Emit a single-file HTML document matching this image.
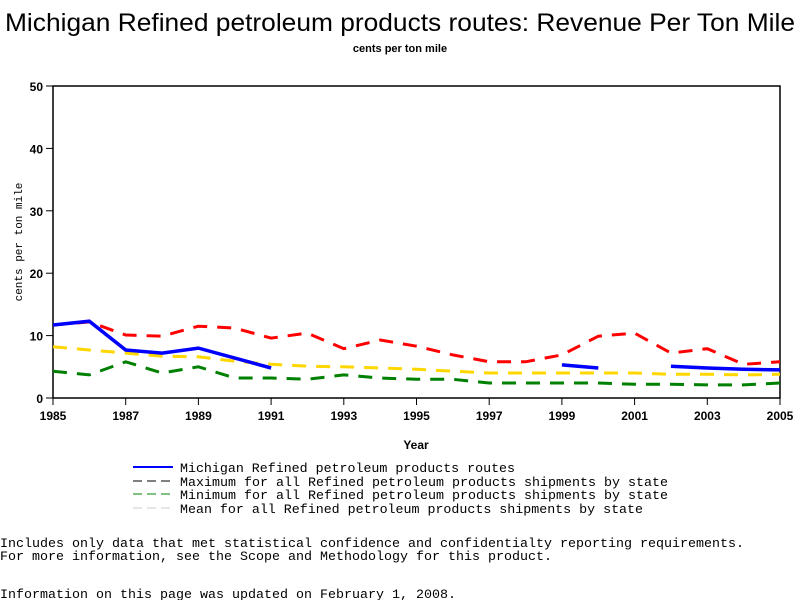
<!DOCTYPE html>
<html><head><meta charset="utf-8"><style>
body{margin:0;background:#fff;width:800px;height:600px;overflow:hidden;}
svg{display:block;}
.m{font-family:"Liberation Mono",monospace;font-size:13.3px;}
</style></head><body>
<svg id="c" width="800" height="600" xmlns="http://www.w3.org/2000/svg">
<text x="400" y="31" text-anchor="middle" font-family="Liberation Sans,sans-serif" font-size="25" textLength="790" lengthAdjust="spacingAndGlyphs">Michigan Refined petroleum products routes: Revenue Per Ton Mile</text>
<text x="400" y="52" text-anchor="middle" font-family="Liberation Sans,sans-serif" font-size="11" font-weight="bold">cents per ton mile</text>
<g id="axes"></g>
<g id="series"></g>
<text x="416" y="449" text-anchor="middle" font-family="Liberation Sans,sans-serif" font-size="12" font-weight="bold">Year</text>
<text transform="translate(22,242) rotate(-90)" text-anchor="middle" font-family="Liberation Mono,monospace" font-size="11">cents per ton mile</text>
<g>
<line x1="133" y1="467" x2="173" y2="467" stroke="#0000ff" stroke-width="2"/>
<text class="m" x="180" y="472" textLength="335" lengthAdjust="spacingAndGlyphs">Michigan Refined petroleum products routes</text>
<line x1="133" y1="481" x2="173" y2="481" stroke="#000" stroke-width="1" stroke-dasharray="9,5"/>
<text class="m" x="180" y="486" textLength="488" lengthAdjust="spacingAndGlyphs">Maximum for all Refined petroleum products shipments by state</text>
<line x1="133" y1="494" x2="173" y2="494" stroke="#008000" stroke-width="1" stroke-dasharray="9,5"/>
<text class="m" x="180" y="499" textLength="488" lengthAdjust="spacingAndGlyphs">Minimum for all Refined petroleum products shipments by state</text>
<line x1="133" y1="508" x2="173" y2="508" stroke="#ccc" stroke-width="1" stroke-dasharray="9,5"/>
<text class="m" x="180" y="513" textLength="463" lengthAdjust="spacingAndGlyphs">Mean for all Refined petroleum products shipments by state</text>
</g>
<text class="m" x="0" y="547" textLength="744" lengthAdjust="spacingAndGlyphs">Includes only data that met statistical confidence and confidentialty reporting requirements.</text>
<text class="m" x="0" y="560" textLength="552" lengthAdjust="spacingAndGlyphs">For more information, see the Scope and Methodology for this product.</text>
<text class="m" x="0" y="598" textLength="456" lengthAdjust="spacingAndGlyphs">Information on this page was updated on February 1, 2008.</text>
</svg>
<script>
const years=[1985,1986,1987,1988,1989,1990,1991,1992,1993,1994,1995,1996,1997,1998,1999,2000,2001,2002,2003,2004,2005];
const michigan=[11.7,12.3,7.7,7.2,8.0,6.4,4.8,null,null,null,null,null,null,null,5.3,4.8,null,5.1,4.8,4.6,4.5];
const maxVals=[11.7,12.2,10.1,9.9,11.5,11.2,9.6,10.4,7.9,9.3,8.3,6.9,5.8,5.8,6.9,9.9,10.4,7.2,7.9,5.4,5.8];
const minVals=[4.3,3.7,5.8,4.0,5.0,3.2,3.2,3.0,3.7,3.2,3.0,3.0,2.4,2.4,2.4,2.4,2.2,2.2,2.1,2.1,2.4];
const meanVals=[8.2,7.7,7.2,6.7,6.6,5.9,5.4,5.1,5.0,4.8,4.6,4.3,4.0,4.0,4.0,4.0,4.0,3.8,3.8,3.7,3.8];
const xTicks=[1985,1987,1989,1991,1993,1995,1997,1999,2001,2003,2005];
const yTicks=[0,10,20,30,40,50];
const NS="http://www.w3.org/2000/svg";
const X0=53,X1=780,Y0=398,Y1=86;
const xs=y=>X0+(y-1985)/20*(X1-X0);
const ys=v=>Y0-v/50*(Y0-Y1);
const ax=document.getElementById('axes');
function mk(t,a,p){const e=document.createElementNS(NS,t);for(const k in a)e.setAttribute(k,a[k]);p.appendChild(e);return e;}
const frame=mk('rect',{x:X0,y:Y1,width:X1-X0,height:Y0-Y1,fill:'none',stroke:'#000','stroke-width':1.5},ax);


xTicks.forEach(t=>{const l=mk('line',{x1:xs(t),x2:xs(t),y1:Y0,y2:Y0+7,stroke:'#000'},ax);


const tx=mk('text',{x:xs(t),y:Y0+22,'text-anchor':'middle','font-family':'Liberation Sans,sans-serif','font-size':12,'font-weight':'bold'},ax);tx.textContent=t;

});
yTicks.forEach(t=>{const l=mk('line',{x1:X0-7,x2:X0,y1:ys(t),y2:ys(t),stroke:'#000'},ax);


const tx=mk('text',{x:X0-10,y:ys(t)+5,'text-anchor':'end','font-family':'Liberation Sans,sans-serif','font-size':12,'font-weight':'bold'},ax);tx.textContent=t;

});
const sg=document.getElementById('series');
function draw(vals,color,w,dash,name){let d='',pen=false;
vals.forEach((v,i)=>{if(v==null){pen=false;return;}d+=(pen?'L':'M')+xs(years[i]).toFixed(1)+','+ys(v).toFixed(1);pen=true;});
const p=mk('path',{d:d,fill:'none',stroke:color,'stroke-width':w},sg);if(dash)p.setAttribute('stroke-dasharray',dash);

}
draw(meanVals,'#ffd700',3,'14,10','series-mean');
draw(minVals,'#008000',3,'14,10','series-min');
draw(maxVals,'#ff0000',3,'14,10','series-max');
draw(michigan,'#0000ff',3.5,null,'series-michigan');
</script>
</body></html>
